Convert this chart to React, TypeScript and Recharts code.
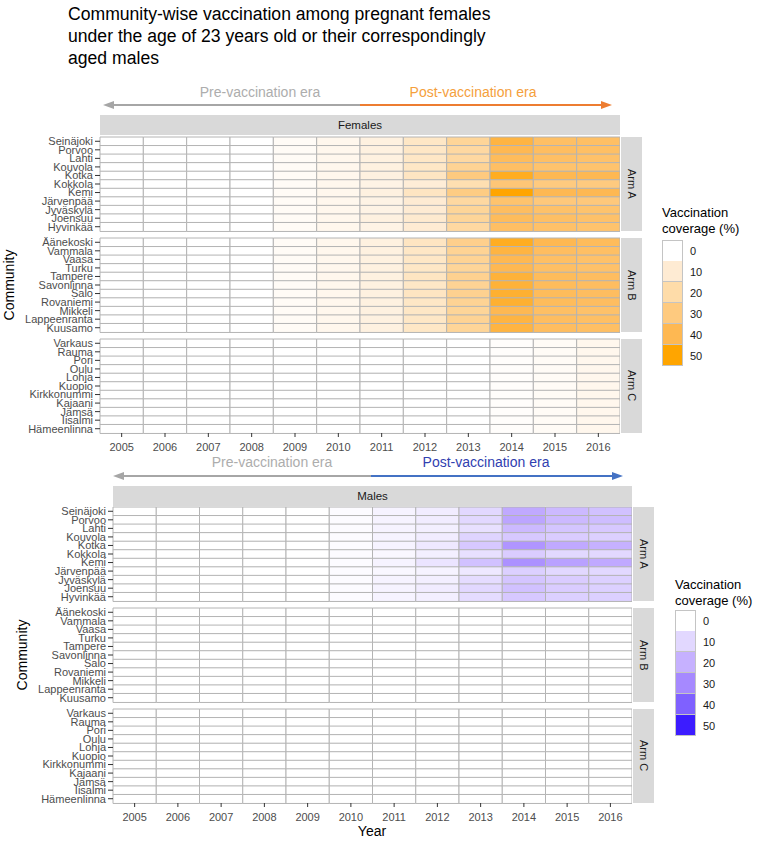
import React from "react";
import { BarChart, Bar, Cell, XAxis, YAxis } from "recharts";

// years on the x axis
const years = [2005, 2006, 2007, 2008, 2009, 2010, 2011, 2012, 2013, 2014, 2015, 2016];

// communities per arm, top to bottom
const armACommunities = ["Seinäjoki", "Porvoo", "Lahti", "Kouvola", "Kotka", "Kokkola", "Kemi", "Järvenpää", "Jyväskylä", "Joensuu", "Hyvinkää"];
const armBCommunities = ["Äänekoski", "Vammala", "Vaasa", "Turku", "Tampere", "Savonlinna", "Salo", "Rovaniemi", "Mikkeli", "Lappeenranta", "Kuusamo"];
const armCCommunities = ["Varkaus", "Rauma", "Pori", "Oulu", "Lohja", "Kuopio", "Kirkkonummi", "Kajaani", "Jämsä", "Iisalmi", "Hämeenlinna"];
const armLabels = ["Arm A", "Arm B", "Arm C"];

// vaccination coverage (%) per community, 2005..2016
const femalesArmA = [
  [0, 0, 0, 0, 2, 4, 7, 13, 24, 42, 36, 36],
  [0, 0, 0, 0, 2, 4, 7, 13, 22, 40, 37, 36],
  [0, 0, 0, 0, 2, 4, 7, 13, 22, 38, 36, 35],
  [0, 0, 0, 0, 2, 4, 7, 13, 25, 36, 34, 34],
  [0, 0, 0, 0, 2, 4, 7, 14, 30, 46, 40, 40],
  [0, 0, 0, 0, 2, 4, 6, 9, 18, 32, 30, 30],
  [0, 0, 0, 0, 2, 4, 7, 14, 29, 50, 40, 40],
  [0, 0, 0, 0, 2, 4, 6, 10, 22, 34, 31, 31],
  [0, 0, 0, 0, 2, 4, 6, 10, 24, 37, 35, 34],
  [0, 0, 0, 0, 2, 4, 7, 11, 24, 38, 36, 35],
  [0, 0, 0, 0, 2, 4, 6, 10, 22, 36, 35, 34],
];
const femalesArmB = [
  [0, 0, 0, 0, 2, 4, 7, 14, 27, 46, 40, 38],
  [0, 0, 0, 0, 2, 4, 7, 13, 25, 42, 37, 36],
  [0, 0, 0, 0, 2, 4, 7, 13, 25, 40, 36, 35],
  [0, 0, 0, 0, 2, 4, 7, 13, 24, 40, 36, 35],
  [0, 0, 0, 0, 2, 4, 7, 14, 26, 43, 38, 37],
  [0, 0, 0, 0, 2, 4, 7, 13, 25, 43, 38, 37],
  [0, 0, 0, 0, 2, 4, 7, 14, 26, 44, 38, 37],
  [0, 0, 0, 0, 2, 4, 7, 13, 25, 44, 38, 37],
  [0, 0, 0, 0, 2, 4, 7, 13, 24, 40, 36, 35],
  [0, 0, 0, 0, 2, 4, 7, 13, 25, 42, 37, 36],
  [0, 0, 0, 0, 2, 4, 7, 13, 24, 42, 37, 36],
];
const femalesArmC = [
  [0, 0, 0, 0, 0, 0, 0, 0, 0, 1, 2, 4],
  [0, 0, 0, 0, 0, 0, 0, 0, 0, 1, 2, 4],
  [0, 0, 0, 0, 0, 0, 0, 0, 0, 1, 2, 4],
  [0, 0, 0, 0, 0, 0, 0, 0, 0, 1, 2, 4],
  [0, 0, 0, 0, 0, 0, 0, 0, 0, 1, 2, 4],
  [0, 0, 0, 0, 0, 0, 0, 0, 0, 1, 2, 4],
  [0, 0, 0, 0, 0, 0, 0, 0, 0, 1, 2, 4],
  [0, 0, 0, 0, 0, 0, 0, 0, 0, 1, 2, 4],
  [0, 0, 0, 0, 0, 0, 0, 0, 0, 1, 2, 4],
  [0, 0, 0, 0, 0, 0, 0, 0, 0, 1, 2, 4],
  [0, 0, 0, 0, 0, 0, 0, 0, 0, 1, 2, 4],
];
const malesArmA = [
  [0, 0, 0, 0, 0, 1, 3, 5, 10, 22, 18, 16],
  [0, 0, 0, 0, 0, 1, 3, 5, 10, 23, 18, 17],
  [0, 0, 0, 0, 0, 1, 3, 4, 8, 18, 15, 14],
  [0, 0, 0, 0, 0, 1, 3, 5, 11, 14, 13, 12],
  [0, 0, 0, 0, 0, 1, 3, 6, 14, 27, 22, 20],
  [0, 0, 0, 0, 0, 1, 2, 4, 8, 13, 10, 10],
  [0, 0, 0, 0, 0, 1, 3, 7, 16, 28, 24, 22],
  [0, 0, 0, 0, 0, 1, 2, 3, 6, 12, 10, 10],
  [0, 0, 0, 0, 0, 1, 3, 4, 9, 15, 13, 12],
  [0, 0, 0, 0, 0, 1, 3, 5, 10, 16, 13, 12],
  [0, 0, 0, 0, 0, 1, 3, 4, 9, 14, 12, 12],
];
const malesArmB = armBCommunities.map(() => [0, 0, 0, 0, 0, 0, 0, 0, 0, 0, 0, 0]);
const malesArmC = armCCommunities.map(() => [0, 0, 0, 0, 0, 0, 0, 0, 0, 0, 0, 0]);

// legend
const legendBreaks = [0, 10, 20, 30, 40, 50];
const femaleSwatches = ["#FFFFFF", "#FEEBD3", "#FEDCA9", "#FECA7F", "#FEB852", "#FFA500"];
const maleSwatches = ["#FFFFFF", "#E2D8FF", "#C6B1FF", "#A689FF", "#7F61FF", "#3C1CFF"];

const FONT = '"Liberation Sans", Arial, Helvetica, sans-serif';
const GRID = "#b4b4b4";
const PAD = 4; // room so the outer tick labels are not clipped

// one constant-width segment per year, stacked along the row
const segmentKeys = years.map(() => () => 1);

function hexToRgb(h: string) {
  const n = parseInt(h.slice(1), 16);
  return [(n >> 16) & 255, (n >> 8) & 255, n & 255];
}

function colorFor(v: number, swatches: string[]) {
  const t = Math.max(0, Math.min(50, v)) / 10;
  const i = Math.min(Math.floor(t), swatches.length - 2);
  const f = t - i;
  const a = hexToRgb(swatches[i]);
  const b = hexToRgb(swatches[i + 1]);
  const c = a.map((x, k) => Math.round(x + (b[k] - x) * f));
  return `rgb(${c[0]},${c[1]},${c[2]})`;
}

interface PanelProps {
  communities: string[];
  values: number[][];
  swatches: string[];
  top: number;
  plotLeft: number;
  plotRight: number;
  height: number;
  showX: boolean;
}

const HeatPanel: React.FC<PanelProps> = ({ communities, values, swatches, top, plotLeft, plotRight, height, showX }) => {
  const data = communities.map((c, i) => {
    const row: Record<string, string | number> = { community: c };
    years.forEach((y, j) => {
      row[`cov${y}`] = values[i][j];
    });
    return row;
  });
  const axisH = showX ? 26 : 0;
  return (
    <div style={{ position: "absolute", left: 0, top: top - PAD }}>
      <BarChart
        layout="vertical"
        width={plotRight}
        height={height + axisH + PAD * 2}
        data={data}
        margin={{ top: PAD, right: 0, bottom: PAD, left: 0 }}
        barCategoryGap={0}
      >
        <XAxis
          type="number"
          domain={[0, years.length]}
          ticks={years.map((_, j) => j + 0.5)}
          tickFormatter={(v: number) => String(years[Math.floor(v)])}
          interval={0}
          hide={!showX}
          height={axisH}
          axisLine={false}
          tickLine={{ stroke: "#333333" }}
          tickSize={4}
          tickMargin={6}
          tick={{ fill: "#4d4d4d", fontSize: 11 }}
        />
        <YAxis
          type="category"
          dataKey="community"
          width={plotLeft}
          interval={0}
          axisLine={false}
          tickLine={{ stroke: "#333333" }}
          tickSize={5}
          tickMargin={2}
          tick={{ fill: "#4d4d4d", fontSize: 11 }}
        />
        {years.map((y, j) => (
          <Bar key={y} dataKey={segmentKeys[j]} stackId="cells" isAnimationActive={false}>
            {data.map((_, i) => (
              <Cell key={i} fill={colorFor(values[i][j], swatches)} stroke={GRID} strokeWidth={1} />
            ))}
          </Bar>
        ))}
      </BarChart>
    </div>
  );
};

interface SexBlockProps {
  label: string;
  arms: number[][][];
  swatches: string[];
  plotLeft: number;
  plotRight: number;
  stripTop: number;
  panelTops: number[];
  panelH: number;
  stripW: number;
}

const SexBlock: React.FC<SexBlockProps> = ({ label, arms, swatches, plotLeft, plotRight, stripTop, panelTops, panelH, stripW }) => {
  const groups = [armACommunities, armBCommunities, armCCommunities];
  return (
    <>
      <div
        style={{
          position: "absolute",
          left: plotLeft,
          top: stripTop,
          width: plotRight - plotLeft,
          height: 20,
          background: "#d9d9d9",
          color: "#1a1a1a",
          fontSize: 11.5,
          lineHeight: "20px",
          textAlign: "center",
        }}
      >
        {label}
      </div>
      {groups.map((g, k) => (
        <React.Fragment key={k}>
          <HeatPanel
            communities={g}
            values={arms[k]}
            swatches={swatches}
            top={panelTops[k]}
            plotLeft={plotLeft}
            plotRight={plotRight}
            height={panelH}
            showX={k === 2}
          />
          <div
            style={{
              position: "absolute",
              left: plotRight + 1,
              top: panelTops[k],
              width: stripW,
              height: panelH,
              background: "#d9d9d9",
              color: "#1a1a1a",
              fontSize: 11,
              display: "flex",
              alignItems: "center",
              justifyContent: "center",
            }}
          >
            <span style={{ writingMode: "vertical-rl" }}>{armLabels[k]}</span>
          </div>
        </React.Fragment>
      ))}
    </>
  );
};

const EraArrows: React.FC<{ y: number; x0: number; xm: number; x1: number; postColor: string; postText: string; preX: number; postX: number; textY: number }> = ({ y, x0, xm, x1, postColor, postText, preX, postX, textY }) => (
  <>
    <svg style={{ position: "absolute", left: 0, top: 0 }} width={757} height={841} pointerEvents="none">
      <line x1={x0 + 8} y1={y} x2={xm} y2={y} stroke="#a6a6a6" strokeWidth={2} />
      <polygon points={`${x0},${y} ${x0 + 11},${y - 4} ${x0 + 11},${y + 4}`} fill="#a6a6a6" />
      <line x1={xm} y1={y} x2={x1 - 8} y2={y} stroke={postColor} strokeWidth={2} />
      <polygon points={`${x1},${y} ${x1 - 11},${y - 4} ${x1 - 11},${y + 4}`} fill={postColor} />
    </svg>
    <div style={{ position: "absolute", left: preX - 100, width: 200, top: textY - 9, textAlign: "center", fontSize: 14, lineHeight: "18px", color: "#adadad" }}>
      Pre-vaccination era
    </div>
    <div style={{ position: "absolute", left: postX - 100, width: 200, top: textY - 9, textAlign: "center", fontSize: 14, lineHeight: "18px", color: postText }}>
      Post-vaccination era
    </div>
  </>
);

const Legend: React.FC<{ left: number; top: number; gap: number; swatches: string[] }> = ({ left, top, gap, swatches }) => (
  <div style={{ position: "absolute", left, top }}>
    <div style={{ fontSize: 13, lineHeight: "16px", color: "#000" }}>
      Vaccination
      <br />
      coverage (%)
    </div>
    <div style={{ marginTop: gap }}>
      {legendBreaks.map((b, i) => (
        <div key={b} style={{ display: "flex", alignItems: "center", height: 21 }}>
          <div style={{ width: 19, height: 20, background: swatches[i], border: "1px solid #c4c4c4", borderTopWidth: i === 0 ? 1 : 0 }} />
          <span style={{ marginLeft: 7, fontSize: 11, color: "#1a1a1a" }}>{b}</span>
        </div>
      ))}
    </div>
  </div>
);

const AxisTitle: React.FC<{ x: number; y: number; text: string; rotate?: boolean }> = ({ x, y, text, rotate }) => (
  <div
    style={{
      position: "absolute",
      left: x,
      top: y,
      transform: `translate(-50%, -50%)${rotate ? " rotate(-90deg)" : ""}`,
      fontSize: 14,
      color: "#000",
      whiteSpace: "nowrap",
    }}
  >
    {text}
  </div>
);

export default function App() {
  return (
    <div style={{ position: "absolute", left: 0, top: 0, width: 757, height: 841, background: "#fff", fontFamily: FONT, overflow: "hidden" }}>
      <div style={{ position: "absolute", left: 68, top: 3, fontSize: 17.6, lineHeight: "22px", color: "#000" }}>
        Community-wise vaccination among pregnant females
        <br />
        under the age of 23 years old or their correspondingly
        <br />
        aged males
      </div>

      <EraArrows y={105} x0={103} xm={360} x1={612} postColor="#ED7D31" postText="#F5A03C" preX={260} postX={473} textY={92} />
      <SexBlock
        label="Females"
        arms={[femalesArmA, femalesArmB, femalesArmC]}
        swatches={femaleSwatches}
        plotLeft={100}
        plotRight={620}
        stripTop={115}
        panelTops={[137, 238, 339]}
        panelH={94}
        stripW={21}
      />
      <AxisTitle x={9} y={285} text="Community" rotate />
      <Legend left={662} top={205} gap={3} swatches={femaleSwatches} />

      <EraArrows y={476} x0={113} xm={371} x1={623} postColor="#4472C4" postText="#3040B0" preX={272} postX={486} textY={462} />
      <SexBlock
        label="Males"
        arms={[malesArmA, malesArmB, malesArmC]}
        swatches={maleSwatches}
        plotLeft={113}
        plotRight={632}
        stripTop={486}
        panelTops={[507, 608, 709]}
        panelH={94}
        stripW={21}
      />
      <AxisTitle x={22} y={655} text="Community" rotate />
      <AxisTitle x={372} y={831} text="Year" />
      <Legend left={675} top={577} gap={1} swatches={maleSwatches} />
    </div>
  );
}
